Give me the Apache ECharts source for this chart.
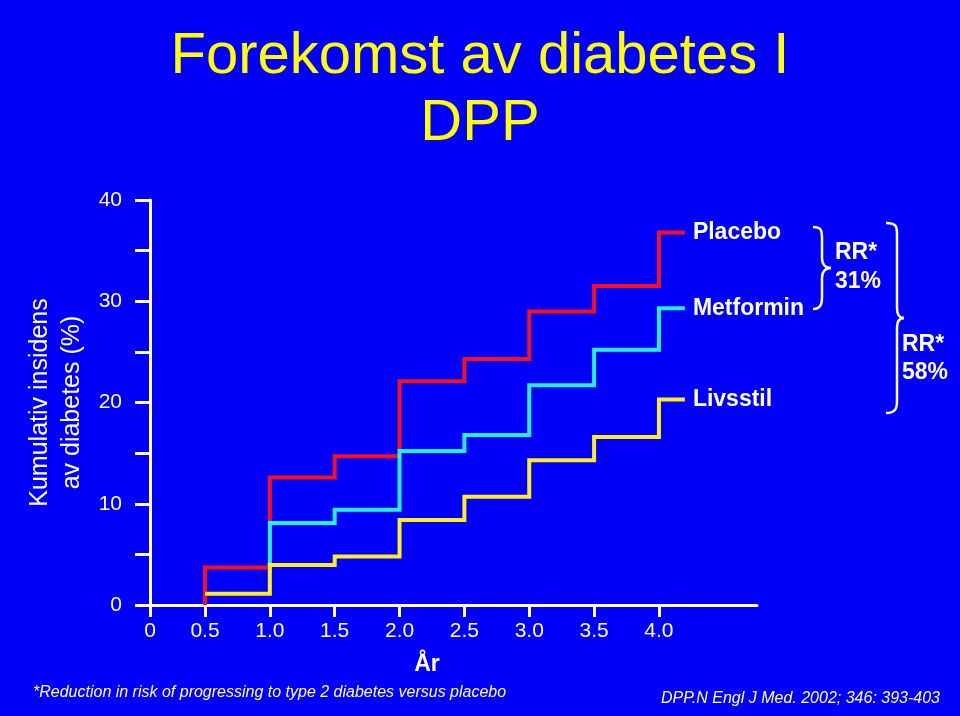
<!DOCTYPE html>
<html>
<head>
<meta charset="utf-8">
<script src="https://cdn.jsdelivr.net/npm/echarts@6/dist/echarts.min.js"></script>
<style>
  html, body { margin: 0; padding: 0; background: #0000fa; }
  #chart { width: 960px; height: 716px; }
</style>
</head>
<body>
<div id="chart"></div>
<script>
// step years and cumulative incidence (%) after each step
const years = [0.5, 1.0, 1.5, 2.0, 2.5, 3.0, 3.5, 4.0]
const placebo = [3.7, 12.6, 14.7, 22.1, 24.3, 29.0, 31.5, 36.8]
const metformin = [null, 8.1, 9.4, 15.2, 16.8, 21.7, 25.2, 29.3]
const livsstil = [1.1, 3.95, 4.8, 8.4, 10.7, 14.3, 16.6, 20.3]
const seriesStart = { Placebo: 0, Metformin: 3.9, Livsstil: null }
const lineEnd = 4.2

const xTicks = [0.076, 0.5, 1.0, 1.5, 2.0, 2.5, 3.0, 3.5, 4.0]
const yTicks = [0, 10, 20, 30, 40]

const font = 'Liberation Sans, Arial, sans-serif'

function stepPoints(levels, start) {
  const pts = []
  const first = levels.findIndex(v => v !== null)
  if (start !== null) pts.push([years[first], start])
  for (let i = first; i < levels.length; i++) {
    pts.push([years[i], levels[i]])
  }
  pts.push([lineEnd, levels[levels.length - 1]])
  return pts
}

function makeSeries(name, levels, color) {
  return {
    name: name,
    type: 'line',
    step: 'end',
    symbol: 'none',
    silent: true,
    data: stepPoints(levels, seriesStart[name]),
    lineStyle: { color: color, width: 4, cap: 'butt', join: 'miter' },
    endLabel: {
      show: true,
      formatter: '{a}',
      distance: 8,
      color: '#fff',
      fontFamily: font,
      fontWeight: 'bold',
      fontSize: 23
    }
  }
}

// curly brace "}" built from curves and lines
function brace(xl, xm, xp, top, mid, bot) {
  const st = { stroke: '#fff', lineWidth: 2.5, fill: 'none' }
  const curve = (x1, y1, c1x, c1y, c2x, c2y, x2, y2) => ({
    type: 'bezierCurve',
    shape: { x1: x1, y1: y1, cpx1: c1x, cpy1: c1y, cpx2: c2x, cpy2: c2y, x2: x2, y2: y2 },
    style: st
  })
  const line = (x1, y1, x2, y2) => ({ type: 'line', shape: { x1: x1, y1: y1, x2: x2, y2: y2 }, style: st })
  return {
    type: 'group',
    children: [
      curve(xl, top, xm, top, xm, top + 4, xm, top + 12),
      line(xm, top + 12, xm, mid - 10),
      curve(xm, mid - 10, xm, mid - 2, xp - 4, mid, xp, mid),
      curve(xp, mid, xp - 4, mid, xm, mid + 2, xm, mid + 10),
      line(xm, mid + 10, xm, bot - 12),
      curve(xm, bot - 12, xm, bot - 4, xm - 2, bot, xl, bot)
    ]
  }
}

const chart = echarts.init(document.getElementById('chart'))
chart.setOption({
  backgroundColor: '#0000fa',
  animation: false,
  title: {
    text: 'Forekomst av diabetes I\nDPP',
    left: 'center',
    top: 18,
    textStyle: { color: '#ffff00', fontFamily: font, fontWeight: 'normal', fontSize: 58, lineHeight: 67 }
  },
  grid: { left: 150, top: 200, width: 607, height: 405 },
  xAxis: {
    type: 'value',
    min: 0.076,
    max: 4.756,
    splitLine: { show: false },
    axisLine: { lineStyle: { color: '#fff', width: 3 } },
    axisTick: { customValues: xTicks, length: 12, lineStyle: { color: '#fff', width: 3 } },
    axisLabel: {
      customValues: xTicks,
      margin: 16,
      color: '#fff',
      fontFamily: font,
      fontSize: 21,
      formatter: v => (v < 0.25 ? '0' : v.toFixed(1))
    }
  },
  yAxis: {
    type: 'value',
    min: 0,
    max: 40,
    interval: 5,
    name: 'Kumulativ insidens\nav diabetes (%)',
    nameLocation: 'middle',
    nameRotate: 90,
    nameGap: 60,
    nameTextStyle: { color: '#fff', fontFamily: font, fontSize: 25, lineHeight: 32 },
    splitLine: { show: false },
    axisLine: { show: true, lineStyle: { color: '#fff', width: 3 } },
    axisTick: { length: 15, lineStyle: { color: '#fff', width: 3 } },
    axisLabel: {
      customValues: yTicks,
      margin: 28,
      color: '#fff',
      fontFamily: font,
      fontSize: 21
    }
  },
  series: [
    makeSeries('Placebo', placebo, '#f8101a'),
    makeSeries('Metformin', metformin, '#22f0ff'),
    makeSeries('Livsstil', livsstil, '#ffee22')
  ],
  graphic: [
    {
      type: 'text', x: 427, y: 665,
      style: { text: 'År', fill: '#fff', font: 'bold 23px ' + font, align: 'center', verticalAlign: 'middle' }
    },
    {
      type: 'text', x: 33, y: 693,
      style: { text: '*Reduction in risk of progressing to type 2 diabetes versus placebo', fill: '#fff', font: 'italic 16px ' + font, verticalAlign: 'middle' }
    },
    {
      type: 'text', x: 940, y: 699,
      style: { text: 'DPP.N Engl J Med. 2002; 346: 393-403', fill: '#fff', font: 'italic 16px ' + font, align: 'right', verticalAlign: 'middle' }
    },
    brace(813, 822, 831, 227, 268, 309),
    {
      type: 'text', x: 835, y: 253,
      style: { text: 'RR*', fill: '#fff', font: 'bold 23px ' + font, verticalAlign: 'middle' }
    },
    {
      type: 'text', x: 835, y: 282,
      style: { text: '31%', fill: '#fff', font: 'bold 23px ' + font, verticalAlign: 'middle' }
    },
    brace(886, 897, 904, 223, 318, 413),
    {
      type: 'text', x: 902, y: 345,
      style: { text: 'RR*', fill: '#fff', font: 'bold 23px ' + font, verticalAlign: 'middle' }
    },
    {
      type: 'text', x: 902, y: 373,
      style: { text: '58%', fill: '#fff', font: 'bold 23px ' + font, verticalAlign: 'middle' }
    }
  ]
})
</script>
</body>
</html>
